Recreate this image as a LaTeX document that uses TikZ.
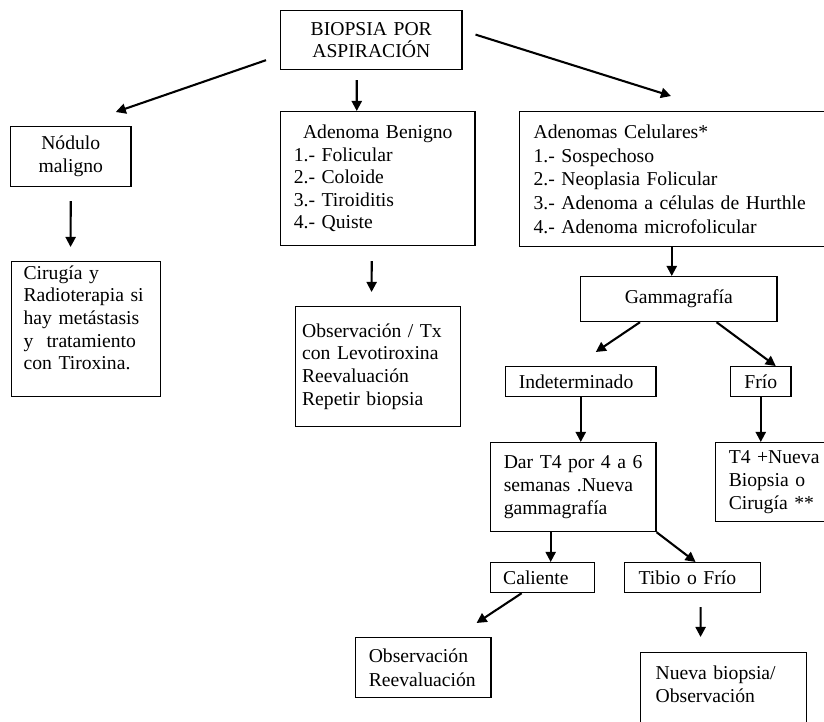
\documentclass[tikz,border=0pt]{standalone}
\usepackage{fontspec}
\setmainfont{Liberation Serif}
\usetikzlibrary{calc,arrows.meta}
\tikzset{
  bx/.style={draw,line width=0.75pt,anchor=north west,inner ysep=0pt,inner xsep=0.29cm,align=left,text width=#1,font=\fontsize{12.3}{14.2}\selectfont},
  flow/.style={-{Triangle[length=6.3pt,width=6.3pt]},line width=1.3pt},
}

\begin{document}
\begin{tikzpicture}[x=0.022cm,y=-0.022cm]
\useasboundingbox (0,0) rectangle (824,722);
\tikzset{
  cbx/.style={bx=#1,align=center},
}
\node[cbx=3.41cm,minimum height=1.298cm] (bio) at (280,10) {BIOPSIA POR\\ASPIRACIÓN};
\node[cbx=2.068cm,minimum height=1.32cm] (mal) at (10,126) {Nódulo\\maligno};
\node[bx=3.696cm,minimum height=2.948cm,font=\fontsize{12.3}{14.1}\selectfont] (ben) at (280,111)
  {\makebox[\hsize]{Adenoma Benigno}\\1.- Folicular\\2.- Coloide\\3.- Tiroiditis\\4.- Quiste};
\node[bx=6.446cm,minimum height=2.97cm,inner xsep=0.308cm,font=\fontsize{12.3}{14.8}\selectfont] (cel) at (519,111)
  {Adenomas Celulares*\\1.- Sospechoso\\2.- Neoplasia Folicular\\3.- Adenoma a células de Hurthle\\4.- Adenoma microfolicular};
\node[bx=2.75cm,minimum height=2.97cm,inner xsep=0.264cm] (cir) at (11,261)
  {Cirugía y\\Radioterapia si\\hay metástasis\\y\ \ tratamiento\\con Tiroxina.\\\mbox{}};
\node[bx=3.344cm,minimum height=2.64cm,inner xsep=0.143cm] (obs) at (295,306)
  {Observación / Tx\\con Levotiroxina\\Reevaluación\\Repetir biopsia};
\node[cbx=3.74cm,minimum height=0.99cm] (gam) at (580,276) {Gammagrafía};
\node[bx=2.728cm,minimum height=0.66cm] (ind) at (505,366) {Indeterminado};
\node[cbx=0.748cm,minimum height=0.66cm] (fri) at (730,366) {Frío};
\node[bx=3.058cm,minimum height=1.958cm,font=\fontsize{12.3}{14.6}\selectfont] (dar) at (490,442)
  {Dar T4 por 4 a 6\\semanas .Nueva\\gammagrafía};
\node[bx=2.178cm,minimum height=1.738cm,font=\fontsize{12.3}{14.4}\selectfont] (t4) at (715,442)
  {T4 +Nueva\\Biopsia o\\Cirugía **};
\node[bx=1.738cm,minimum height=0.66cm,inner xsep=0.277cm] (cal) at (490,562) {Caliente};
\node[bx=2.376cm,minimum height=0.66cm,inner xsep=0.308cm] (tib) at (624,562) {Tibio o Frío};
\node[bx=2.398cm,minimum height=1.32cm,font=\fontsize{12.3}{14.8}\selectfont] (orv) at (355,637)
  {Observación\\Reevaluación};
\node[bx=2.992cm,inner xsep=0.33cm,inner ysep=0.3cm] (nue) at (640,652)
  {Nueva biopsia/\\Observación\\\mbox{}\\\mbox{}};
\draw[flow] ($(bio.south west)+(-14,-10)$) -- ($(mal.north)+(45,-14)$);
\draw[flow] ($(bio.south)+(-14.5,10)$) -- ($(ben.north)+(-21,0)$);
\draw[flow] ($(bio.east)+(13,-5.5)$) -- ($(cel.north west)+(152,-15)$);
\draw[flow] ($(mal.south)+(0,14)$) -- ($(cir.north)+(-15.5,-14)$);
\draw[flow] ($(ben.south)+(-6,15)$) -- ($(obs.north)+(-6.5,-14)$);
\draw[flow] ($(gam.north)+(-7,-30)$) -- ($(gam.north)+(-7,0)$);
\draw[flow] ($(gam.south west)+(60,0)$) -- ($(ind.north)+(15,-14)$);
\draw[flow] ($(gam.south east)+(-61,0)$) -- ($(fri.north)+(15,0)$);
\draw[flow] (ind.south) -- (ind.south |- dar.north);
\draw[flow] (fri.south) -- (fri.south |- t4.north);
\draw[flow] ($(cal.north)+(8,-31)$) -- ($(cal.north)+(8,0)$);
\draw[flow] (dar.south east) -- ($(tib.north)+(3,0)$);
\draw[flow] ($(cal.south)+(-21,0)$) -- ($(orv.north east)+(-15,-14)$);
\draw[flow] ($(tib.south)+(8,14)$) -- ($(nue.north)+(-23,-15)$);
\end{tikzpicture}
\end{document}
